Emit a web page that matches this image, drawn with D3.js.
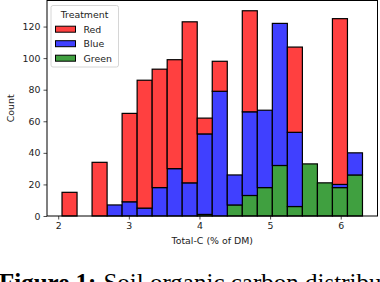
<!DOCTYPE html>
<html>
<head>
<meta charset="utf-8">
<script src="https://cdn.jsdelivr.net/npm/d3@7"></script>
<style>
  body { margin: 0; background: #fff; overflow: hidden; }
  svg { display: block; }
  .ax { font-family: "DejaVu Sans", sans-serif; }
  .caption { font-family: "Liberation Serif", "DejaVu Serif", serif; }
</style>
</head>
<body>
<svg id="chart" width="380" height="282"></svg>
<script>
// histogram bins (Total-C, % of DM)
const binLo = 2.054;
const binHi = 6.308;
const nBins = 20;
// counts per bin, one array per treatment
const treatments = ["Red", "Blue", "Green"];
const redCounts   = [15, 0, 34, 0, 56, 81, 75, 69, 102, 10, 19, 0, 64, 0, 0, 54, 0, 0, 105, 0];
const blueCounts  = [0, 0, 0, 7, 9, 5, 18, 30, 21, 51, 79, 19, 53, 49, 90, 47, 0, 0, 2, 14];
const greenCounts = [0, 0, 0, 0, 0, 0, 0, 0, 0, 1, 0, 7, 13, 18, 32, 6, 33, 21, 18, 26];
const xTicks = [2, 3, 4, 5, 6];
const yTicks = [0, 20, 40, 60, 80, 100, 120];
const colors = { Red: "#ff4040", Blue: "#4040ff", Green: "#40a040" };

const svg = d3.select("#chart");
const margin = { left: 47, right: 2.5, top: 0.5, bottom: 66 };
const width = 380, plotBottom = 216;
const fs = 9.4;

const binW = (binHi - binLo) / nBins;
const pad = (binHi - binLo) * 0.05;
const x = d3.scaleLinear().domain([binLo - pad, binHi + pad]).range([margin.left, width - margin.right]);

const rows = d3.range(nBins).map(i => ({
  x0: binLo + i * binW,
  x1: binLo + (i + 1) * binW,
  Red: redCounts[i], Blue: blueCounts[i], Green: greenCounts[i]
}));
const series = d3.stack().keys(["Green", "Blue", "Red"])(rows);
const maxTot = d3.max(rows, r => r.Red + r.Blue + r.Green);
const y = d3.scaleLinear().domain([0, maxTot * 1.05]).range([plotBottom, margin.top]);

// bars
series.forEach(s => {
  svg.append("g")
    .selectAll("rect")
    .data(s.filter(d => d[1] - d[0] > 0))
    .join("rect")
    .attr("x", d => x(d.data.x0))
    .attr("width", d => x(d.data.x1) - x(d.data.x0))
    .attr("y", d => y(d[1]))
    .attr("height", d => y(d[0]) - y(d[1]))
    .attr("fill", colors[s.key])
    .attr("stroke", "#000")
    .attr("stroke-width", 1.2);
});

// axes
const xAxis = svg.append("g")
  .attr("class", "ax")
  .attr("transform", `translate(0,${plotBottom})`)
  .call(d3.axisBottom(x).tickValues(xTicks).tickSize(3.5).tickPadding(3).tickFormat(d3.format("d")));
const yAxis = svg.append("g")
  .attr("class", "ax")
  .attr("transform", `translate(${margin.left},0)`)
  .call(d3.axisLeft(y).tickValues(yTicks).tickSize(3.5).tickPadding(3).tickFormat(d3.format("d")));
[xAxis, yAxis].forEach(a => {
  a.select(".domain").remove();
  a.attr("font-family", null).attr("font-size", null);
  a.selectAll("text").attr("font-size", fs).attr("fill", "#222");
  a.selectAll("line").attr("stroke", "#222").attr("stroke-width", 0.8);
});

// frame
svg.append("rect")
  .attr("x", margin.left).attr("y", margin.top)
  .attr("width", width - margin.right - margin.left)
  .attr("height", plotBottom - margin.top)
  .attr("fill", "none").attr("stroke", "#000").attr("stroke-width", 1);

svg.append("text").attr("class", "ax")
  .attr("x", (margin.left + width - margin.right) / 2).attr("y", 244)
  .attr("text-anchor", "middle").attr("font-size", fs).attr("fill", "#222")
  .text("Total-C (% of DM)");
svg.append("text").attr("class", "ax")
  .attr("transform", `translate(14,${(margin.top + plotBottom) / 2}) rotate(-90)`)
  .attr("text-anchor", "middle").attr("font-size", fs).attr("fill", "#222")
  .text("Count");

// legend
const lg = svg.append("g").attr("class", "ax");
lg.append("rect")
  .attr("x", 51).attr("y", 5.5).attr("width", 67.5).attr("height", 61.5).attr("rx", 2)
  .attr("fill", "#fff").attr("fill-opacity", 0.8).attr("stroke", "#ccc").attr("stroke-width", 0.8);
lg.append("text").attr("x", 84.5).attr("y", 18).attr("text-anchor", "middle")
  .attr("font-size", fs).attr("fill", "#222").text("Treatment");
treatments.forEach((t, i) => {
  const cy = 29.2 + i * 14.5;
  lg.append("rect").attr("x", 55.5).attr("y", cy - 3).attr("width", 20).attr("height", 6)
    .attr("fill", colors[t]).attr("stroke", "#000").attr("stroke-width", 1);
  lg.append("text").attr("x", 83.5).attr("y", cy + 3.4).attr("font-size", fs).attr("fill", "#222").text(t);
});

// caption (its lower half falls below the frame, as in the source)
const cap = svg.append("text").attr("class", "caption").attr("x", -1).attr("y", 291)
  .attr("font-size", 25).attr("fill", "#000");
cap.append("tspan").attr("font-weight", "bold").text("Figure 1:");
cap.append("tspan").attr("dx", 7).text("Soil organic carbon distribution");
</script>
</body>
</html>
